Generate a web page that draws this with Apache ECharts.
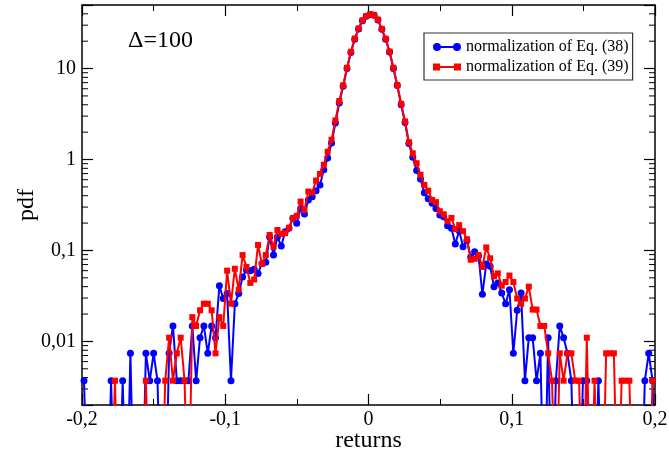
<!DOCTYPE html>
<html>
<head>
<meta charset="UTF-8">
<title>pdf of returns</title>
<style>
    html, body { margin: 0; padding: 0; background: #fff; }
    #main { width: 669px; height: 456px; }
</style>
</head>
<body>
<div id="main"></div>
<script src="https://cdn.jsdelivr.net/npm/echarts/dist/echarts.min.js"></script>
<script>
// histogram bins (centre of first bin, bin width)
var firstBin = -0.1986;
var binWidth = 0.0027;

// pdf per bin, 0 = empty bin (line drops below the axis)
var pdfEq38 = [
    0.0037, 0, 0, 0, 0, 0, 0, 0.0037, 0, 0,
    0.0037, 0, 0.0074, 0, 0, 0, 0.0074, 0.0037, 0.0074, 0.0037,
    0, 0, 0.0074, 0.0148, 0.0037, 0.0037, 0.0037, 0.0037, 0.0148, 0.0037,
    0.011, 0.0148, 0.0074, 0.0148, 0.011, 0.041, 0.0296, 0.0336, 0.0037, 0.026,
    0.0336, 0.051, 0.061, 0.06, 0.062, 0.056, 0.072, 0.074, 0.141, 0.089,
    0.141, 0.112, 0.161, 0.176, 0.226, 0.199, 0.29, 0.252, 0.36, 0.39,
    0.455, 0.525, 0.77, 1.04, 1.52, 2.52, 4.18, 6.4, 10.0, 15.0,
    21.0, 27.3, 33.5, 37.5, 39.3, 38.5, 34.3, 27.0, 21.0, 15.2,
    10.0, 6.5, 4.0, 2.55, 1.5, 1.06, 0.756, 0.61, 0.43, 0.37,
    0.33, 0.29, 0.246, 0.235, 0.187, 0.176, 0.118, 0.165, 0.11, 0.128,
    0.085, 0.097, 0.087, 0.033, 0.071, 0.067, 0.04, 0.044, 0.034, 0.026,
    0.037, 0.0074, 0.022, 0.034, 0.0037, 0.011, 0.011, 0.0037, 0.0074, 0,
    0.011, 0, 0.0037, 0.0148, 0.011, 0.0074, 0.0037, 0, 0, 0.0037,
    0.0037, 0, 0, 0.0037, 0, 0, 0, 0, 0, 0,
    0, 0, 0, 0, 0, 0.0037, 0.0074, 0.0037, 0
];
var pdfEq39 = [
    0, 0, 0, 0, 0, 0, 0, 0, 0.0037, 0,
    0, 0, 0, 0, 0, 0, 0.0037, 0, 0, 0,
    0, 0.0037, 0.011, 0.0037, 0.0074, 0.011, 0.0037, 0, 0.0185, 0.0148,
    0.022, 0.026, 0.026, 0.022, 0.0074, 0.0185, 0.0148, 0.06, 0.026, 0.063,
    0.037, 0.089, 0.066, 0.044, 0.048, 0.115, 0.071, 0.089, 0.148, 0.11,
    0.168, 0.152, 0.155, 0.178, 0.226, 0.24, 0.345, 0.279, 0.444, 0.433,
    0.587, 0.695, 0.875, 1.22, 1.65, 2.69, 4.4, 6.55, 10.2, 15.3,
    21.4, 27.6, 33.9, 37.8, 39.5, 38.7, 34.5, 27.3, 21.3, 15.4,
    10.2, 6.6, 4.1, 2.62, 1.55, 1.17, 0.91, 0.68, 0.526, 0.455,
    0.36, 0.34, 0.27, 0.25, 0.21, 0.228, 0.172, 0.19, 0.163, 0.133,
    0.079, 0.081, 0.089, 0.066, 0.108, 0.082, 0.052, 0.056, 0.041, 0.045,
    0.053, 0.045, 0.0296, 0.026, 0.0296, 0.04, 0.0224, 0.0224, 0.0148, 0.0148,
    0.0074, 0.0037, 0, 0.0074, 0.0037, 0.0074, 0.0074, 0.0037, 0.0037, 0,
    0.011, 0, 0.0037, 0, 0, 0.0074, 0.0074, 0.0074, 0, 0.0037,
    0.0037, 0.0037, 0, 0, 0, 0, 0, 0.0037, 0.0037
];

var xTickValues = [-0.2, -0.1, 0, 0.1, 0.2];
var xTickLabels = ['-0,2', '-0,1', '0', '0,1', '0,2'];
var yTickValues = [0.01, 0.1, 1, 10];
var yTickLabels = ['0,01', '0,1', '1', '10'];

var yMin = 0.002, yMax = 50;
var serif = 'Liberation Serif';

function toPoints(arr) {
    return arr.map(function (v, k) {
        // empty bins are sent below the axis floor, the grid clips them
        return [firstBin + k * binWidth, v > 0 ? v : 1e-4];
    });
}
function pick(values, labels, v) {
    for (var i = 0; i < values.length; i++) {
        if (Math.abs(values[i] - v) < Math.abs(values[i]) * 1e-6 + 1e-9) return labels[i];
    }
    return '';
}

var circleIcon = 'path://M0,4A4,4,0,1,1,8,4A4,4,0,1,1,0,4ZM7,3L21,3L21,5L7,5ZM20,4A4,4,0,1,1,28,4A4,4,0,1,1,20,4Z';
var squareIcon = 'path://M0,0.5L7,0.5L7,7.5L0,7.5ZM7,3L21,3L21,5L7,5ZM21,0.5L28,0.5L28,7.5L21,7.5Z';

var chart = echarts.init(document.getElementById('main'));

var tickCommon = { inside: true, length: 11, lineStyle: { color: '#000', width: 1.2 } };
var minorCommon = { show: true, splitNumber: 2, length: 6, lineStyle: { color: '#000', width: 1 } };
var lineCommon = { show: true, onZero: false, lineStyle: { color: '#000', width: 1.5 } };

var option = {
    backgroundColor: '#fff',
    animation: false,
    grid: { left: 82, right: 14, top: 5, bottom: 51, containLabel: false, outerBoundsMode: 'none' },
    legend: {
        orient: 'vertical',
        left: 424, top: 33,
        padding: [6, 4, 5, 9],
        itemGap: 4, itemWidth: 28, itemHeight: 8,
        borderColor: '#333', borderWidth: 1.2,
        backgroundColor: '#fff',
        textStyle: { fontFamily: serif, fontSize: 16, color: '#000', lineHeight: 16 },
        data: [
            { name: 'normalization of Eq. (38)', icon: circleIcon },
            { name: 'normalization of Eq. (39)', icon: squareIcon }
        ]
    },
    xAxis: [{
        type: 'value', min: -0.2, max: 0.2, interval: 0.1,
        name: 'returns', nameLocation: 'middle', nameGap: 24, nameMoveOverlap: false,
        nameTextStyle: { fontFamily: serif, fontSize: 24, color: '#000' },
        axisLine: lineCommon, axisTick: tickCommon, minorTick: minorCommon,
        splitLine: { show: false },
        axisLabel: {
            margin: 5, fontFamily: serif, fontSize: 20, color: '#000',
            formatter: function (v) { return pick(xTickValues, xTickLabels, v); }
        }
    }, {
        type: 'value', position: 'top', min: -0.2, max: 0.2, interval: 0.1,
        axisLine: lineCommon, axisTick: tickCommon, minorTick: minorCommon,
        splitLine: { show: false }, axisLabel: { show: false }
    }],
    yAxis: [{
        type: 'log', min: yMin, max: yMax, logBase: 10,
        name: 'pdf', nameLocation: 'middle', nameGap: 43, nameRotate: 90, nameMoveOverlap: false,
        nameTextStyle: { fontFamily: serif, fontSize: 24, color: '#000' },
        axisLine: lineCommon, axisTick: tickCommon,
        splitLine: { show: false },
        axisLabel: {
            margin: 6, fontFamily: serif, fontSize: 20, color: '#000',
            formatter: function (v) { return pick(yTickValues, yTickLabels, v); }
        }
    }, {
        type: 'log', min: yMin, max: yMax, logBase: 10, position: 'right',
        axisLine: lineCommon, axisTick: tickCommon,
        splitLine: { show: false }, axisLabel: { show: false }
    }],
    series: [{
        name: 'normalization of Eq. (38)',
        type: 'line',
        data: toPoints(pdfEq38),
        symbol: 'circle', symbolSize: 7,
        itemStyle: { color: '#0000ff' },
        lineStyle: { color: '#0000ff', width: 2 },
        clip: true, z: 2
    }, {
        name: 'normalization of Eq. (39)',
        type: 'line',
        data: toPoints(pdfEq39),
        symbol: 'rect', symbolSize: 6,
        itemStyle: { color: '#ff0000' },
        lineStyle: { color: '#ff0000', width: 2 },
        clip: true, z: 3
    }]
};
chart.setOption(option);

// log minor ticks on left and right edges + the Δ label
var xl = chart.convertToPixel({ xAxisIndex: 0 }, -0.2);
var xr = chart.convertToPixel({ xAxisIndex: 0 }, 0.2);
var extras = [{
    type: 'text', left: 128, top: 29,
    style: { text: 'Δ=100', font: '24px "Liberation Serif"', fill: '#000' }
}];
for (var d = -3; d <= 1; d++) {
    for (var m = 2; m <= 9; m++) {
        var v = m * Math.pow(10, d);
        if (v <= yMin || v >= yMax) continue;
        var py = chart.convertToPixel({ yAxisIndex: 0 }, v);
        extras.push({ type: 'line', shape: { x1: xl, y1: py, x2: xl + 6, y2: py }, style: { stroke: '#000', lineWidth: 1 } });
        extras.push({ type: 'line', shape: { x1: xr, y1: py, x2: xr - 6, y2: py }, style: { stroke: '#000', lineWidth: 1 } });
    }
}
chart.setOption({ graphic: extras });
</script>
</body>
</html>
